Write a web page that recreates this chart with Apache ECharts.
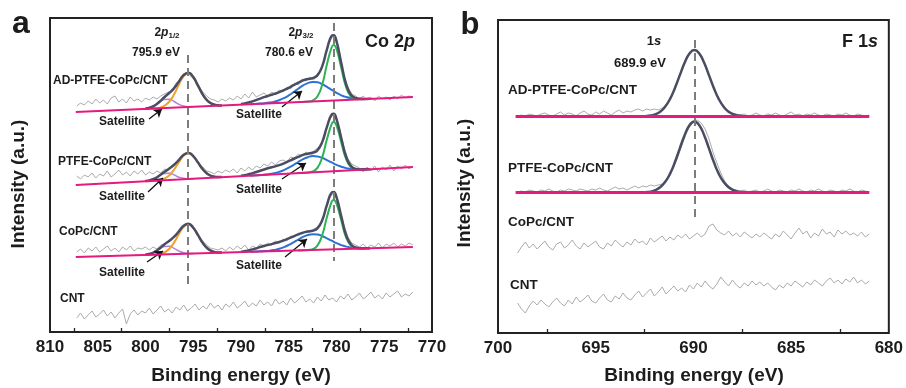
<!DOCTYPE html>
<html><head><meta charset="utf-8">
<script src="https://cdn.jsdelivr.net/npm/echarts@6/dist/echarts.min.js"></script>
<style>html,body{margin:0;padding:0;background:#fff}#c{width:906px;height:388px}</style>
</head><body><div id="c"></div>
<script>
// ---------- Panel a : Co 2p ----------
const coStart = 807.2, coStep = 0.4, coCount = 89;
const coTicks = [810, 805, 800, 795, 790, 785, 780, 775, 770];
const coRawAD = [226,229,227,231,228,233,229,232,228,234,236,230,233,229,235,231,233,230,234,
 232,235,233,236,238,240,241,249,251,258,260,255,252,246,240,236,233,232,230,233,
 231,234,232,236,233,238,234,240,235,237,239,236,240,238,242,240,245,243,249,247,253,251,255,252,258,262,277,288,296,292,275,255,245,238,236,
 233,236,232,235,231,236,233,235,232,236,233,237,234,236,235];
const coRawPT = [156,153,157,155,159,154,158,156,161,155,158,162,157,160,156,161,158,162,157,
 160,158,161,159,163,162,167,168,174,176,180,177,174,167,165,161,160,158,161,159,
 162,160,163,159,164,161,165,162,166,164,168,166,170,167,171,172,170,175,174,178,176,180,178,181,184,187,199,211,217,214,200,184,173,168,166,
 164,160,165,161,166,160,165,162,167,161,166,163,167,163,166];
const coRawCP = [80,83,79,84,81,85,80,83,86,81,84,80,85,82,86,81,84,83,85,
 82,85,83,87,88,90,94,96,103,105,109,105,102,96,91,87,84,83,82,84,
 81,85,82,86,83,87,82,86,84,88,86,89,87,91,89,93,91,96,95,99,98,101,100,103,105,108,120,133,138,136,120,106,95,89,87,
 85,88,84,87,85,89,84,88,86,89,85,88,86,89,87];
const coRawCNT = [14,19,13,17,21,15,18,22,16,20,14,19,23,8,
 18,22,17,21,19,24,18,22,26,20,23,19,25,22,27,21,24,28,22,26,
 23,29,24,27,22,28,25,30,24,27,31,25,29,26,32,27,30,26,33,28,
 31,27,34,29,32,36,30,33,29,35,31,37,32,34,30,36,33,38,32,35,
 39,33,36,40,34,37,33,39,35,38,41,35,38,36,40];

const adOrange = [[800,223.1],[799.5,223.3],[799,223.7],[798.5,224.4],[798,226.4],[797.5,230.5],[797,237.8],[796.5,247.4],[796,255.9],[795.5,259.0],[795,254.9],[794.5,246.3],[794,237.4],[793.5,231.2],[793,228.0],[792.5,226.8],[792,226.6]];
const adPurple = [[800,223.4],[799.5,224.4],[799,226.5],[798.5,229.8],[798,232.6],[797.5,232.8],[797,230.5],[796.5,227.6],[796,225.9],[795.5,225.3],[795,225.2]];
const adEnvHalf = [[800,223.4],[799.5,224.5],[799,226.7],[798.5,230.5],[798,235.0],[797.5,239.1],[797,243.9],[796.5,250.4],[796,257.0],[795.5,259.3],[795,254.9],[794.5,246.3],[794,237.4],[793.5,231.2],[793,228.0],[792.5,226.8],[792,226.6]];
const adGreen = [[784,229.9],[783.5,230.1],[783,230.4],[782.5,231.4],[782,235.5],[781.5,247.2],[781,267.7],[780.5,285.0],[780.3,287.0],[780,283.0],[779.5,263.9],[779,245.1],[778.5,235.7],[778,233.1],[777.5,232.7],[777,232.9]];
const adBlue = [[789,227.8],[788.5,228.1],[788,228.4],[787.5,228.8],[787,229.4],[786.5,230.3],[786,231.8],[785.5,233.9],[785,236.6],[784.5,239.8],[784,243.3],[783.5,246.6],[783,248.9],[782.5,250.0],[782,249.7],[781.5,247.9],[781,245.1],[780.5,242.1],[780,239.1],[779.5,236.7],[779,235.0],[778.5,233.9],[778,233.4],[777.5,233.1],[777,233.1],[776.5,233.2]];
const adEnvMain = [[790,227.9],[789.5,228.8],[789,230.0],[788.5,231.6],[788,233.4],[787.5,235.1],[787,236.6],[786.5,238.1],[786,239.8],[785.5,241.9],[785,244.2],[784.5,246.8],[784,249.3],[783.5,251.6],[783,253.0],[782.5,253.9],[782,256.6],[781.5,265.6],[781,282.6],[780.5,296.3],[780.3,296.8],[780,290.8],[779.5,268.9],[779,248.1],[778.5,237.4],[778,234.0],[777.5,233.2],[777,233.1],[776.5,233.2]];
const adBase = [[807.3,220],[772,235]];

const ptOrange = [[800,150.7],[799.5,151.0],[799,151.4],[798.5,152.0],[798,153.5],[797.5,156.8],[797,162.5],[796.5,169.8],[796,176.4],[795.5,178.8],[795,175.9],[794.5,169.4],[794,162.7],[793.5,158.0],[793,155.7],[792.5,155.0],[792,154.9]];
const ptPurple = [[800,150.9],[799.5,151.9],[799,153.5],[798.5,156.3],[798,158.4],[797.5,158.7],[797,157.1],[796.5,154.8],[796,153.7],[795.5,153.2],[795,153.3]];
const ptEnvHalf = [[800,150.9],[799.5,151.9],[799,153.7],[798.5,156.8],[798,160.2],[797.5,163.5],[797,167.3],[796.5,172.1],[796,177.3],[795.5,179.0],[795,175.9],[794.5,169.4],[794,162.7],[793.5,158.0],[793,155.7],[792.5,155.0],[792,154.9]];
const ptGreen = [[784,158.9],[783.5,159.1],[783,159.5],[782.5,160.5],[782,164.1],[781.5,174.6],[781,192.7],[780.5,208.2],[780.3,210.0],[780,206.4],[779.5,189.6],[779,173.0],[778.5,164.8],[778,162.4],[777.5,162.3],[777,162.5]];
const ptBlue = [[789,156.3],[788.5,156.7],[788,157.0],[787.5,157.4],[787,158.1],[786.5,158.8],[786,160.1],[785.5,161.9],[785,164.3],[784.5,167.0],[784,170.0],[783.5,172.8],[783,174.8],[782.5,175.9],[782,175.6],[781.5,174.2],[781,171.9],[780.5,169.6],[780,167.1],[779.5,165.3],[779,163.9],[778.5,163.1],[778,162.6],[777.5,162.5],[777,162.6],[776.5,162.8]];
const ptEnvMain = [[790,156.2],[789.5,157.1],[789,158.2],[788.5,159.7],[788,161.3],[787.5,162.8],[787,164.2],[786.5,165.4],[786,166.9],[785.5,168.7],[785,170.8],[784.5,173.0],[784,175.1],[783.5,177.1],[783,178.3],[782.5,179.3],[782,181.7],[781.5,189.9],[781,205.1],[780.5,217.6],[780.3,218.2],[780,212.9],[779.5,193.8],[779,175.5],[778.5,166.2],[778,163.1],[777.5,162.6],[777,162.7],[776.5,162.8]];
const ptBase = [[807.3,147],[772,165]];

const cpOrange = [[800,77.1],[799.5,77.2],[799,77.6],[798.5,78.1],[798,79.7],[797.5,83.3],[797,89.6],[796.5,97.9],[796,105.3],[795.5,107.9],[795,104.3],[794.5,96.8],[794,89.0],[793.5,83.5],[793,80.8],[792.5,79.6],[792,79.4]];
const cpPurple = [[800,77.4],[799.5,78.2],[799,80.2],[798.5,83.2],[798,85.6],[797.5,85.8],[797,83.6],[796.5,80.9],[796,79.2],[795.5,78.6],[795,78.5]];
const cpEnvHalf = [[800,77.4],[799.5,78.2],[799,80.4],[798.5,83.8],[798,87.7],[797.5,91.3],[797,95.3],[796.5,100.7],[796,106.3],[795.5,108.2],[795,104.3],[794.5,96.8],[794,89.0],[793.5,83.5],[793,80.8],[792.5,79.6],[792,79.4]];
const cpGreen = [[784,81.6],[783.5,81.7],[783,82.0],[782.5,82.8],[782,86.4],[781.5,96.7],[781,114.9],[780.5,130.3],[780.3,132.0],[780,128.4],[779.5,111.5],[779,94.7],[778.5,86.3],[778,83.8],[777.5,83.5],[777,83.6]];
const cpBlue = [[789,80.2],[788.5,80.4],[788,80.7],[787.5,80.9],[787,81.3],[786.5,82.1],[786,83.2],[785.5,84.9],[785,87.1],[784.5,89.7],[784,92.5],[783.5,95.1],[783,97.0],[782.5,97.8],[782,97.5],[781.5,96.0],[781,93.7],[780.5,91.3],[780,88.8],[779.5,86.9],[779,85.4],[778.5,84.6],[778,84.0],[777.5,83.7],[777,83.8],[776.5,83.8]];
const cpEnvMain = [[790,80.3],[789.5,81.0],[789,82.1],[788.5,83.4],[788,85.0],[787.5,86.3],[787,87.4],[786.5,88.7],[786,90.0],[785.5,91.7],[785,93.6],[784.5,95.7],[784,97.6],[783.5,99.4],[783,100.5],[782.5,101.2],[782,103.6],[781.5,111.7],[781,127.1],[780.5,139.5],[780.3,140.0],[780,134.8],[779.5,115.6],[779,97.1],[778.5,87.7],[778,84.5],[777.5,83.8],[777,83.8],[776.5,83.8]];
const cpBase = [[807.3,75],[772,85]];

const coPeakLines = [[795.55,277,43],[780.31,309,71]];
const coArrows = [[799.63,213,798.27,223],[785.71,225,783.61,241],[799.74,140,798.17,154],[785.71,153,783.19,169],[799.84,70,798.17,81],[785.39,75,783.09,93]];

// ---------- Panel b : F 1s ----------
const fStart = 699.0, fStep = 0.2, fCount = 91;
const fTicks = [700, 695, 690, 685, 680];
const fRawAD = [217,218,217,219,218,217,219,220,218,217,219,221,218,220,219,217,220,222,219,218,
 221,219,222,220,218,221,223,220,222,221,223,224,222,224,223,224,223,225,228,233,
 241,252,262,272,279,283,281,276,268,258,246,237,230,225,222,220,219,218,219,217,
 218,220,218,217,219,218,220,218,217,219,221,218,219,217,219,218,220,218,217,219,
 218,217,219,218,220,218,217,219,218,217,218];
const fRawPT = [141,142,141,143,142,141,143,142,144,142,141,143,142,144,143,142,144,143,142,144,
 143,145,143,142,144,146,144,145,143,145,147,145,147,146,148,147,148,149,152,158,
 166,176,187,198,206,211,213,210,204,194,181,170,160,152,147,144,143,142,143,141,
 142,143,141,142,144,142,141,143,142,141,143,142,144,142,141,143,142,144,142,141,
 143,142,141,143,142,144,142,141,143,142,141];
const fRawCP = [80,86,91,85,89,84,88,92,86,83,89,91,85,88,93,87,84,90,86,89,
 92,86,84,90,87,93,89,86,91,88,94,90,92,88,95,91,94,97,92,96,
 93,98,95,99,94,97,100,96,99,107,109,103,100,98,102,97,100,96,101,98,
 95,99,96,100,97,94,99,96,102,98,94,100,105,99,102,95,100,97,104,99,
 101,96,103,99,102,98,100,97,101,96,99];
const fRawCNT = [30,24,20,27,32,28,33,29,26,31,35,30,27,33,29,36,31,34,38,32,
 30,35,39,33,31,37,34,40,35,33,38,42,36,40,44,37,41,46,39,43,
 47,42,45,41,48,44,50,46,52,47,44,49,56,51,47,53,48,45,50,47,
 52,48,51,47,50,46,43,48,45,50,47,52,49,46,51,48,53,50,47,52,
 55,50,53,49,54,51,56,50,53,49,52];
const fFitAD = [[692.7,216.6],[692.45,216.8],[692.2,217.4],[691.95,218.7],[691.7,221.3],[691.45,226.2],[691.2,233.9],[690.95,244.8],[690.7,257.6],[690.45,270.2],[690.2,279.5],[689.95,283.0],[689.7,279.5],[689.45,270.2],[689.2,257.6],[688.95,244.8],[688.7,233.9],[688.45,226.2],[688.2,221.3],[687.95,218.7],[687.7,217.4],[687.45,216.8],[687.2,216.6]];
const fFitPT = [[692.7,140.6],[692.45,140.8],[692.2,141.4],[691.95,142.8],[691.7,145.7],[691.45,150.9],[691.2,159.1],[690.95,170.7],[690.7,184.4],[690.45,197.8],[690.2,207.8],[689.95,211.5],[689.7,207.8],[689.45,197.8],[689.2,184.4],[688.95,170.7],[688.7,159.1],[688.45,150.9],[688.2,145.7],[687.95,142.8],[687.7,141.4],[687.45,140.8],[687.2,140.6]];
const fBaseAD = [[699.1,216.5],[681.0,216.5]];
const fBasePT = [[699.1,140.5],[681.0,140.5]];
const fPeakLine = [689.95,293,111];

// ---------- build ----------
const FONT = '"Liberation Sans", Arial, Helvetica, sans-serif';
const C = {raw:'#ababab', env:'#4a4d62', orange:'#f1a12b', purple:'#b480d8', green:'#2db152', blue:'#2d72d3', base:'#e6197f', dash:'#7d7d7d', text:'#1c1c1c'};
const coE = Array.from({length: coCount}, (_, i) => +(coStart - coStep * i).toFixed(2));
const fE = Array.from({length: fCount}, (_, i) => +(fStart - fStep * i).toFixed(2));
const pair = (xs, ys) => xs.map((x, i) => [x, ys[i]]);

function ln(ax, data, color, width, z, smooth, extra) {
  return Object.assign({type:'line', xAxisIndex:ax, yAxisIndex:ax, data, symbol:'none', showSymbol:false,
    smooth: smooth ? 0.5 : false, lineStyle:{color, width}, z, silent:true, animation:false}, extra || {});
}
const series = [];
[coRawAD, coRawPT, coRawCP, coRawCNT].forEach(r => series.push(ln(0, pair(coE, r), C.raw, 1, 2, false)));
[[adPurple, adOrange, adBlue, adGreen, adEnvHalf, adEnvMain, adBase],
 [ptPurple, ptOrange, ptBlue, ptGreen, ptEnvHalf, ptEnvMain, ptBase],
 [cpPurple, cpOrange, cpBlue, cpGreen, cpEnvHalf, cpEnvMain, cpBase]].forEach((s, k) => {
  series.push(ln(0, s[0], C.purple, 1.5, 3, true));
  series.push(ln(0, s[1], C.orange, 2, 3, true));
  series.push(ln(0, s[2], C.blue, 2, 3, true));
  series.push(ln(0, s[3], C.green, 2, 3, true));
  series.push(ln(0, s[4], C.env, 2.5, 4, true));
  series.push(ln(0, s[5], C.env, 2.5, 4, true));
  const extra = {};
  if (k === 0) extra.markLine = {silent:true, animation:false, symbol:['none','arrow'], symbolSize:8, label:{show:false},
    lineStyle:{color:'#111', width:1.3, type:'solid'},
    data: coArrows.map(a => [{coord:[a[0], a[1]]}, {coord:[a[2], a[3]]}])};
  if (k === 1) extra.markLine = {silent:true, animation:false, symbol:['none','none'], label:{show:false},
    lineStyle:{color:C.dash, width:2, type:[8,5]},
    data: coPeakLines.map(p => [{coord:[p[0], p[1]]}, {coord:[p[0], p[2]]}])};
  series.push(ln(0, s[6], C.base, 2, 5, false, extra));
});
[fRawAD, fRawPT, fRawCP, fRawCNT].forEach(r => series.push(ln(1, pair(fE, r), C.raw, 1, 2, false)));
series.push(ln(1, fFitAD, C.env, 2.5, 4, true));
series.push(ln(1, fFitPT, C.env, 2.5, 4, true));
series.push(ln(1, fBaseAD, C.base, 3, 5, false, {markLine:{silent:true, animation:false, symbol:['none','none'], label:{show:false},
  lineStyle:{color:C.dash, width:2, type:[8,5]}, data:[[{coord:[fPeakLine[0], fPeakLine[1]]}, {coord:[fPeakLine[0], fPeakLine[2]]}]]}}));
series.push(ln(1, fBasePT, C.base, 3, 5, false));

function xAx(idx, min, max, ticks) {
  return {type:'value', gridIndex:idx, min, max, interval:5, inverse:true,
    axisLine:{show:false}, splitLine:{show:false},
    axisTick:{show:false, inside:true},
    minorTick:{show:true, splitNumber:2, length:4, lineStyle:{color:'#222', width:1.3}},
    axisLabel:{show:true, fontSize:17, fontWeight:'bold', fontFamily:FONT, color:C.text, margin:7,
      showMinLabel:true, showMaxLabel:true, formatter: v => ticks.includes(v) ? String(v) : ''}};
}
function yAx(idx, max) { return {type:'value', gridIndex:idx, min:0, max, show:false}; }

function tx(x, y, text, size, align, extra) {
  return Object.assign({type:'text', x, y, silent:true, z:100,
    style:{text, fill:C.text, font:'bold ' + size + 'px ' + FONT, align: align || 'left', verticalAlign:'middle'}}, extra || {});
}
function rich(x, y, text, size, align, sub) {
  const base = {fill:C.text, fontSize:size, fontWeight:'bold', fontFamily:FONT, lineHeight:size + 2};
  return {type:'text', x, y, silent:true, z:100, style:{text, align, verticalAlign:'middle', fill:C.text,
    font:'bold ' + size + 'px ' + FONT,
    rich:{n:Object.assign({}, base), i:Object.assign({}, base, {fontStyle:'italic'}),
      s:Object.assign({}, base, {fontSize:sub || 8, lineHeight:sub || 8, verticalAlign:'bottom'})}}};
}

const graphics = [
  tx(21, 24, 'a', 32, 'center'),
  tx(470, 25, 'b', 31, 'center'),
  tx(19, 184, 'Intensity (a.u.)', 19, 'center', {rotation: Math.PI / 2}),
  tx(465, 183, 'Intensity (a.u.)', 19, 'center', {rotation: Math.PI / 2}),
  tx(241, 376, 'Binding energy (eV)', 19, 'center'),
  tx(694, 376, 'Binding energy (eV)', 19, 'center'),
  rich(415, 42, '{n|Co 2}{i|p}', 18, 'right'),
  rich(878, 42, '{n|F 1}{i|s}', 18, 'right'),
  rich(167, 33, '{n|2}{i|p}{s|1/2}', 12, 'center'),
  rich(301, 33, '{n|2}{i|p}{s|3/2}', 12, 'center'),
  tx(156, 53, '795.9 eV', 12, 'center'),
  tx(289, 53, '780.6 eV', 12, 'center'),
  rich(654, 41, '{n|1}{i|s}', 13, 'center'),
  tx(640, 63, '689.9 eV', 13, 'center'),
  tx(53, 81, 'AD-PTFE-CoPc/CNT', 12),
  tx(58, 162, 'PTFE-CoPc/CNT', 12),
  tx(59, 232, 'CoPc/CNT', 12),
  tx(60, 299, 'CNT', 12),
  tx(508, 90, 'AD-PTFE-CoPc/CNT', 13.5),
  tx(508, 168, 'PTFE-CoPc/CNT', 13.5),
  tx(508, 222, 'CoPc/CNT', 13.5),
  tx(510, 285, 'CNT', 13.5),
  tx(122, 122, 'Satellite', 12, 'center'),
  tx(259, 115, 'Satellite', 12, 'center'),
  tx(122, 197, 'Satellite', 12, 'center'),
  tx(259, 190, 'Satellite', 12, 'center'),
  tx(122, 273, 'Satellite', 12, 'center'),
  tx(259, 266, 'Satellite', 12, 'center')
];

const chart = echarts.init(document.getElementById('c'), null, {renderer:'canvas'});
chart.setOption({
  animation:false,
  backgroundColor:'#ffffff',
  grid:[
    {left:50, top:18, width:382, height:314, show:true, borderColor:'#222', borderWidth:2, backgroundColor:'transparent'},
    {left:498, top:20, width:392, height:313, show:true, borderColor:'#222', borderWidth:2, backgroundColor:'transparent'}
  ],
  xAxis:[xAx(0, 770, 810, coTicks), xAx(1, 680, 700, fTicks)],
  yAxis:[yAx(0, 314), yAx(1, 313)],
  series,
  graphic:{elements:graphics}
});
</script></body></html>
